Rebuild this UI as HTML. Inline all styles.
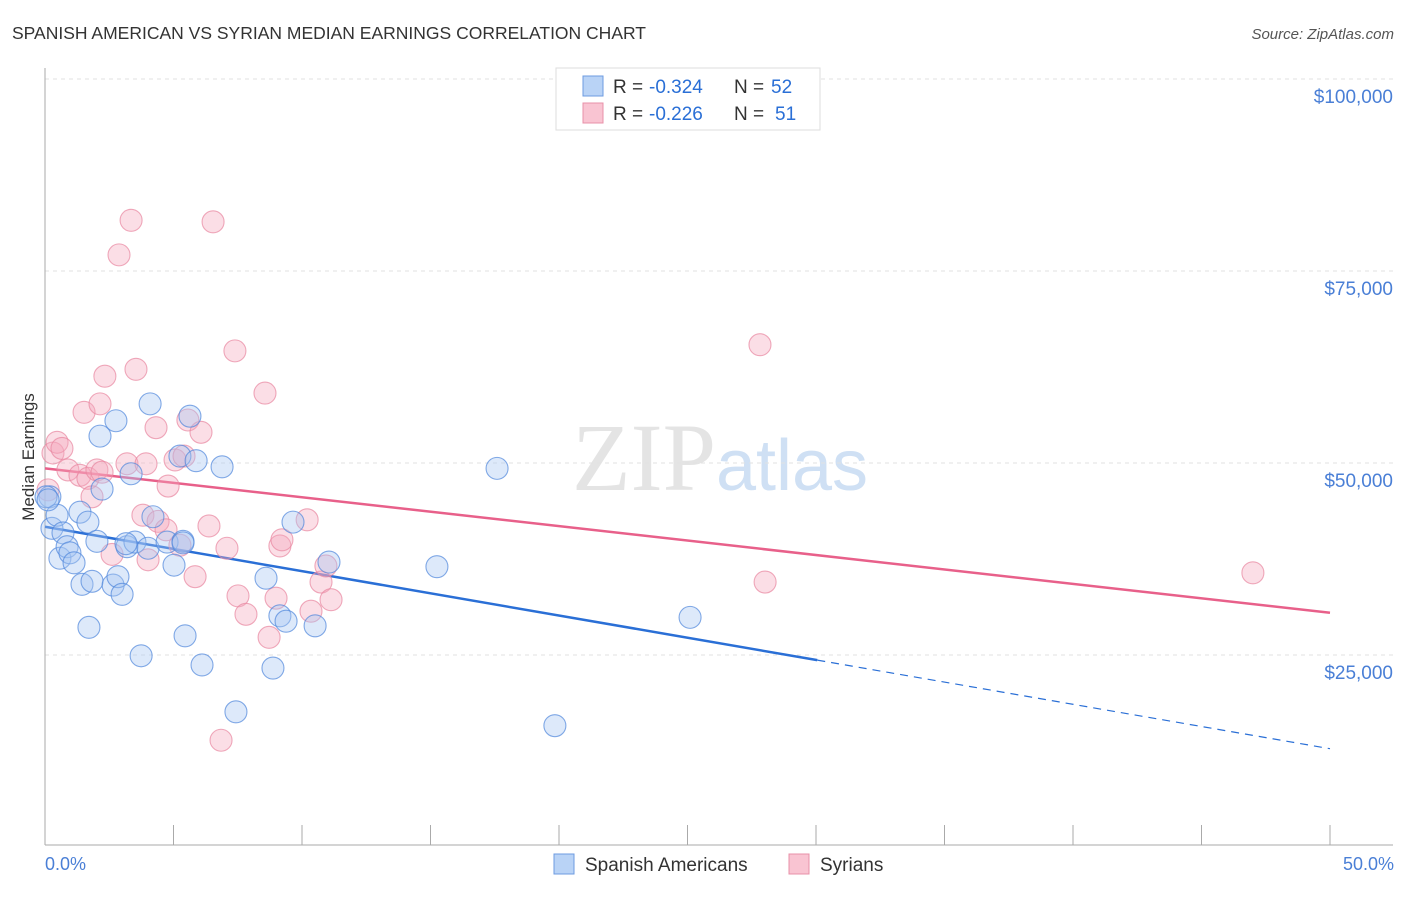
<!DOCTYPE html>
<html><head><meta charset="utf-8"><style>
body{margin:0;background:#fff;font-family:"Liberation Sans",sans-serif}
</style></head><body>
<svg id="chart" width="1406" height="892" xmlns="http://www.w3.org/2000/svg" font-family="Liberation Sans, sans-serif">
<text x="12" y="39" font-size="17.5" fill="#333">SPANISH AMERICAN VS SYRIAN MEDIAN EARNINGS CORRELATION CHART</text>
<text x="1394" y="39" font-size="15" fill="#555" text-anchor="end" font-style="italic">Source: ZipAtlas.com</text>
<text x="720" y="490" font-size="96" fill="#e4e4e4" text-anchor="middle" font-family="Liberation Serif, serif">ZIP<tspan fill="#cfe0f4" font-family="Liberation Sans, sans-serif" font-size="72">atlas</tspan></text>
<text transform="translate(34,457) rotate(-90)" font-size="17" fill="#333" text-anchor="middle">Median Earnings</text>
<g id="grid"></g><g id="ticks"></g><g id="lines"></g><g id="points"></g>
<g>
<rect x="556" y="68" width="264" height="62" fill="#fff" stroke="#ddd"/>
<rect x="583" y="76" width="20" height="20" fill="#b9d3f6" stroke="#6d9be0"/>
<rect x="583" y="103" width="20" height="20" fill="#f9c4d2" stroke="#e890a8"/>
<text x="613" y="93" font-size="19" fill="#333">R =</text>
<text x="649" y="93" font-size="19" fill="#2a6fd6">-0.324</text>
<text x="734" y="93" font-size="19" fill="#333">N =</text>
<text x="771" y="93" font-size="19" fill="#2a6fd6">52</text>
<text x="613" y="120" font-size="19" fill="#333">R =</text>
<text x="649" y="120" font-size="19" fill="#2a6fd6">-0.226</text>
<text x="734" y="120" font-size="19" fill="#333">N =</text>
<text x="775" y="120" font-size="19" fill="#2a6fd6">51</text>
</g>
<g>
<rect x="554" y="854" width="20" height="20" fill="#b9d3f6" stroke="#6d9be0"/>
<text x="585" y="871" font-size="19" fill="#333">Spanish Americans</text>
<rect x="789" y="854" width="20" height="20" fill="#f9c4d2" stroke="#e890a8"/>
<text x="820" y="871" font-size="19" fill="#333">Syrians</text>
</g>
<text x="45" y="870" font-size="18" fill="#4a7fd6">0.0%</text>
<text x="1394" y="870" font-size="18" fill="#4a7fd6" text-anchor="end">50.0%</text>
</svg>
<script>
const yTicks=[25000,50000,75000,100000];
const yTickLabels=["$25,000","$50,000","$75,000","$100,000"];
const xTicks=[0,5,10,15,20,25,30,35,40,45,50];
const blueX=[0.19,0.27,0.47,0.58,0.70,0.86,0.97,1.13,1.36,1.44,1.67,1.71,1.83,2.02,2.14,2.22,2.65,2.76,2.84,3.00,3.19,3.35,3.50,3.74,4.01,4.09,4.20,4.75,5.02,5.37,5.45,5.64,5.25,5.88,6.11,6.89,7.43,8.60,8.87,9.14,9.38,9.65,10.51,11.05,15.25,17.59,19.84,25.10,3.15,5.37,0.04,0.12];
const blueY=[45.6,41.5,43.2,37.6,40.9,39.1,38.3,37.0,43.6,34.2,42.3,28.6,34.6,39.8,53.5,46.6,34.1,55.5,35.2,32.9,39.1,48.6,39.7,24.9,38.9,57.7,43.0,39.7,36.7,39.8,27.5,56.1,50.9,50.3,23.7,49.5,17.6,35.0,23.3,30.1,29.4,42.3,28.8,37.1,36.5,49.3,15.8,29.9,39.5,39.6,45.6,45.2];
const pinkX=[0.12,0.31,0.47,0.66,0.89,1.36,1.52,1.67,1.83,2.02,2.14,2.33,2.61,2.88,3.19,3.35,3.54,3.81,3.93,4.01,4.32,4.40,4.71,4.79,5.06,5.25,5.41,5.56,5.84,6.07,6.38,6.54,6.85,7.08,7.39,7.51,7.82,8.56,8.72,8.99,9.14,9.22,10.20,10.35,10.74,10.93,11.13,27.82,28.02,47.00,2.22];
const pinkY=[46.5,51.3,52.7,51.9,49.1,48.4,56.6,48.0,45.6,49.1,57.7,61.3,38.1,77.1,49.9,81.6,62.2,43.2,49.9,37.4,54.6,42.4,41.3,47.0,50.4,39.3,50.9,55.6,35.2,54.0,41.8,81.4,13.9,38.9,64.6,32.7,30.3,59.1,27.3,32.4,39.2,40.0,42.6,30.7,34.5,36.6,32.2,65.4,34.5,35.7,48.8];
const blueTrend=[41.7,12.8];
const pinkTrend=[49.3,30.5];
const blueSolidEnd=30.05;
const NS="http://www.w3.org/2000/svg";
const X=v=>45+v/50*1285, Y=v=>847-v/25000*192;
function mk(t,a,p){const e=document.createElementNS(NS,t);for(const k in a)e.setAttribute(k,a[k]);document.getElementById(p).appendChild(e);return e;}
yTicks.forEach((t,i)=>{
 const g=mk('line',{x1:45,x2:1395,y1:Y(t),y2:Y(t),stroke:'#e2e2e2','stroke-dasharray':'4,4'},'grid');
 
 
 const l=mk('text',{x:1393,y:Y(t)+24,'font-size':19,fill:'#4a7fd6','text-anchor':'end'},'grid');
 l.textContent=yTickLabels[i];
 
 
});
mk('line',{x1:45,x2:45,y1:68,y2:845,stroke:'#aaa'},'ticks');
mk('line',{x1:45,x2:1393,y1:845,y2:845,stroke:'#aaa'},'ticks');
xTicks.forEach(t=>{const e=mk('line',{x1:X(t),x2:X(t),y1:825,y2:845,stroke:'#aaa'},'ticks');
 
 });
function pts(xs,ys,fill,stroke,name){xs.forEach((x,i)=>{const c=mk('circle',{cx:X(x),cy:Y(ys[i]*1000),r:11,fill:fill,'fill-opacity':0.38,stroke:stroke,'stroke-opacity':0.7,'stroke-width':1.1},'points');
 
 });}
pts(pinkX,pinkY,'#f5a8bd','#e8869f','syrian-point');
pts(blueX,blueY,'#a6c6f2','#4f86dc','spanish-american-point');
const bAt=x=>blueTrend[0]+(blueTrend[1]-blueTrend[0])*x/50;
const pAt=x=>pinkTrend[0]+(pinkTrend[1]-pinkTrend[0])*x/50;
let e=mk('line',{x1:X(0),y1:Y(pAt(0)*1000),x2:X(50),y2:Y(pAt(50)*1000),stroke:'#e8608a','stroke-width':2.5},'lines');


e=mk('line',{x1:X(0),y1:Y(bAt(0)*1000),x2:X(blueSolidEnd),y2:Y(bAt(blueSolidEnd)*1000),stroke:'#2a6fd6','stroke-width':2.5},'lines');


e=mk('line',{x1:X(blueSolidEnd),y1:Y(bAt(blueSolidEnd)*1000),x2:X(50),y2:Y(bAt(50)*1000),stroke:'#2a6fd6','stroke-width':1.2,'stroke-dasharray':'8,6'},'lines');


</script>
</body></html>
